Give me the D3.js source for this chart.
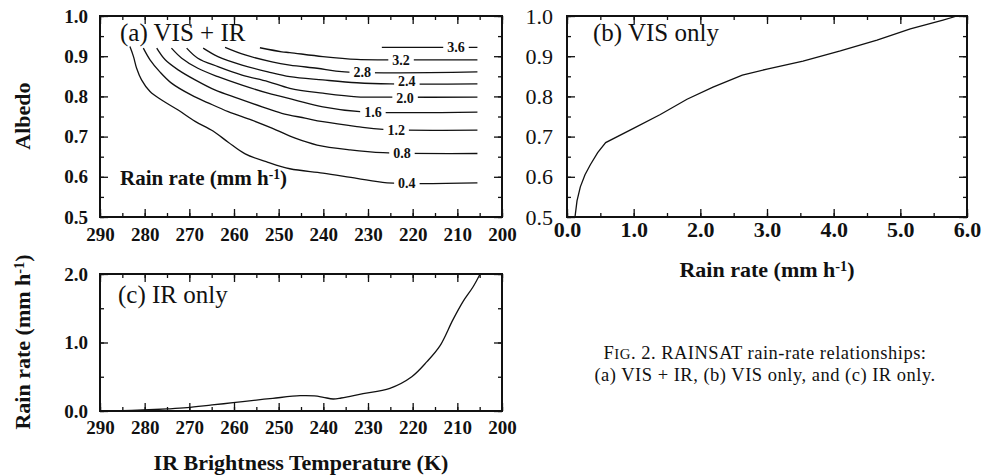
<!DOCTYPE html>
<html><head><meta charset="utf-8">
<script src="https://cdn.jsdelivr.net/npm/d3@7"></script>
<style>
html,body{margin:0;padding:0;background:#fff;}
svg{display:block;}
text{font-family:"Liberation Serif","Times New Roman",serif;fill:#111;}
</style></head><body>
<svg id="chart" width="984" height="475"></svg>
<script>
// ---------------- DATA ----------------
const tempMajorTicks = [290, 280, 270, 260, 250, 240, 230, 220, 210, 200];
const albedoMajorTicks = [0.5, 0.6, 0.7, 0.8, 0.9, 1.0];
const visRateMajorTicks = [0, 1, 2, 3, 4, 5, 6];
const irRateMajorTicks = [0, 1, 2];

// (a) VIS + IR contours: [brightness temperature K, albedo]
const contourLevels = ["0.4", "0.8", "1.2", "1.6", "2.0", "2.4", "2.8", "3.2", "3.6"];
const contour04 = [[283.3,0.924],[282.5,0.899],[281.8,0.870],[280.7,0.841],[278.8,0.812],[276.2,0.791],[272.5,0.766],[268.7,0.738],[264.7,0.714],[261.3,0.686],[257.5,0.657],[252.4,0.636],[247.5,0.620],[240.1,0.609],[232.5,0.596],[225.7,0.585],[205.5,0.585]];
const contour08 = [[280.3,0.920],[278.8,0.891],[276.6,0.861],[274.0,0.833],[269.5,0.803],[265.8,0.784],[261.3,0.762],[256.0,0.741],[251.5,0.721],[246.3,0.696],[241.4,0.679],[234.0,0.667],[226.6,0.660],[205.5,0.658]];
const contour12 = [[277.3,0.920],[275.4,0.891],[272.5,0.866],[268.7,0.841],[264.3,0.816],[259.1,0.795],[253.7,0.774],[249.3,0.758],[244.1,0.746],[240.1,0.737],[232.5,0.725],[226.6,0.718],[205.5,0.716]];
const contour16 = [[274.0,0.920],[271.7,0.895],[268.1,0.870],[263.6,0.849],[258.2,0.828],[252.4,0.808],[246.3,0.791],[240.1,0.774],[231.8,0.762],[205.5,0.761]];
const contour20 = [[270.6,0.920],[268.1,0.895],[263.6,0.874],[258.2,0.853],[252.4,0.837],[247.5,0.820],[240.1,0.808],[232.5,0.799],[225.1,0.798],[205.5,0.798]];
const contour24 = [[266.9,0.920],[263.6,0.899],[258.2,0.878],[252.4,0.861],[247.5,0.849],[240.1,0.841],[232.5,0.834],[225.1,0.831],[205.5,0.831]];
const contour28 = [[262.0,0.922],[257.5,0.903],[251.5,0.886],[247.5,0.878],[241.4,0.870],[235.2,0.861],[205.5,0.861]];
const contour32 = [[254.2,0.921],[249.3,0.911],[247.5,0.909],[240.1,0.899],[232.5,0.892],[225.7,0.891],[205.5,0.891]];
const contour36 = [[226.9,0.922],[205.5,0.922]];
const contourLabelTemps = [221.3, 222.4, 223.7, 228.9, 221.7, 221.3, 231.3, 222.6, 210.3];

// (b) VIS only
const visRate   = [0.12, 0.15, 0.20, 0.27, 0.35, 0.46, 0.58, 0.99, 1.40, 1.80, 2.19, 2.63, 3.00, 3.54, 4.10, 4.65, 5.15, 5.64, 5.85];
const visAlbedo = [0.50, 0.54, 0.575, 0.605, 0.63, 0.66, 0.685, 0.72, 0.755, 0.793, 0.823, 0.853, 0.868, 0.888, 0.913, 0.94, 0.968, 0.99, 1.0];

// (c) IR only
const irTemp = [290, 285, 280.4, 275, 270.5, 264.9, 260.2, 255, 251.3, 245.2, 242, 240, 237.8, 236, 234, 231.1, 225.1, 220.2, 216.8, 213.9, 211.0, 208.7, 206.5, 204.9];
const irRate = [0, 0.005, 0.015, 0.03, 0.048, 0.088, 0.121, 0.16, 0.185, 0.223, 0.22, 0.2, 0.175, 0.19, 0.215, 0.253, 0.331, 0.50, 0.72, 0.95, 1.33, 1.60, 1.81, 2.0];

// ---------------- DRAW ----------------
const svg = d3.select("#chart");
const contours = [contour04, contour08, contour12, contour16, contour20, contour24, contour28, contour32, contour36];

function frame(g, x, y, o) {
  const [x0, x1] = x.range(), [y0, y1] = y.range();
  const mk = (axisFn, scale, ticks, size, fmt) => axisFn(scale).tickValues(ticks).tickSize(-size).tickFormat(fmt || "");
  g.append("g").attr("transform", `translate(0,${y0})`).call(mk(d3.axisBottom, x, o.xMinor, 4));
  const bl = g.append("g").attr("transform", `translate(0,${y0})`);
  bl.call(mk(d3.axisBottom, x, o.xMajor, 8, o.xFmt).tickPadding(o.xPad));
  bl.selectAll("text").attr("font-size", o.xFont).attr("font-weight", o.xWeight).attr("fill", "#111");
  g.append("g").attr("transform", `translate(0,${y1})`).call(mk(d3.axisTop, x, o.xMinor, 4));
  g.append("g").attr("transform", `translate(0,${y1})`).call(mk(d3.axisTop, x, o.xMajor, 8));
  g.append("g").attr("transform", `translate(${x0},0)`).call(mk(d3.axisLeft, y, o.yMinor, 4));
  const ll = g.append("g").attr("transform", `translate(${x0},0)`);
  ll.call(mk(d3.axisLeft, y, o.yMajor, 8, o.yFmt).tickPadding(o.yPad));
  ll.selectAll("text").attr("font-size", o.yFont).attr("font-weight", o.yWeight).attr("fill", "#111");
  g.append("g").attr("transform", `translate(${x1},0)`).call(mk(d3.axisRight, y, o.yMinor, 4));
  g.append("g").attr("transform", `translate(${x1},0)`).call(mk(d3.axisRight, y, o.yMajor, 8));
  g.selectAll(".domain").remove();
  g.selectAll(".tick line").attr("stroke", "#111").attr("stroke-width", 1.3);
  g.append("rect").attr("x", x0).attr("y", y1).attr("width", x1 - x0).attr("height", y0 - y1)
    .attr("fill", "none").attr("stroke", "#111").attr("stroke-width", 2);
}

function range(a, b, s) { const r = []; for (let v = a; v <= b + 1e-9; v += s) r.push(+v.toFixed(3)); return r; }

function rainLabel(sel) {
  sel.append("tspan").text("Rain rate (mm h");
  sel.append("tspan").attr("dy", "-0.45em").attr("font-size", "0.65em").text("-1");
  sel.append("tspan").attr("dy", "0.3em").text(")");
}

// ----- Panel (a)
const xa = d3.scaleLinear().domain([290, 200]).range([100, 502]);
const ya = d3.scaleLinear().domain([0.5, 1.0]).range([217, 16]);
const ga = svg.append("g");
const lineA = d3.line().x(d => xa(d[0])).y(d => ya(d[1])).curve(d3.curveCatmullRom.alpha(0.5));
ga.selectAll("path.c").data(contours).join("path").attr("class", "c")
  .attr("d", lineA).attr("fill", "none").attr("stroke", "#111").attr("stroke-width", 1.3);
const labelNudge = { "2.4": -2.5, "2.0": 0.5 };
contours.forEach((c, i) => {
  const t = contourLabelTemps[i];
  const yv = c[c.length - 1][1];
  const gx = xa(t), gy = ya(yv);
  const txt = ga.append("text").attr("x", gx).attr("y", gy + (labelNudge[contourLevels[i]] || 0)).attr("dy", "0.35em")
    .attr("text-anchor", "middle").attr("font-size", 14).attr("font-weight", "bold").text(contourLevels[i]);
  const bb = txt.node().getBBox();
  ga.insert("rect", "text").attr("x", bb.x - 4).attr("y", gy - 4).attr("width", bb.width + 8).attr("height", 8).attr("fill", "#fff");
});
frame(ga, xa, ya, {
  xMajor: tempMajorTicks, xMinor: range(200, 290, 5), yMajor: albedoMajorTicks, yMinor: range(0.5, 1.0, 0.05),
  xFmt: d3.format("d"), yFmt: d3.format(".1f"), xPad: 11, yPad: 12, xFont: 19, yFont: 19, xWeight: "bold", yWeight: "bold"
});
ga.append("text").attr("x", 120).attr("y", 41).attr("font-size", 25).text("(a) VIS + IR");
ga.append("text").attr("x", 120).attr("y", 185).attr("font-size", 21).attr("font-weight", "bold").call(rainLabel);
svg.append("text").attr("transform", `translate(30,116) rotate(-90)`).attr("text-anchor", "middle")
  .attr("font-size", 22).attr("font-weight", "bold").text("Albedo");

// ----- Panel (b)
const xb = d3.scaleLinear().domain([0, 6]).range([567, 967]);
const yb = d3.scaleLinear().domain([0.5, 1.0]).range([217, 16]);
const gb = svg.append("g");
gb.append("path").datum(visRate.map((r, i) => [r, visAlbedo[i]]))
  .attr("d", d3.line().x(d => xb(d[0])).y(d => yb(d[1])))
  .attr("fill", "none").attr("stroke", "#111").attr("stroke-width", 1.3);
frame(gb, xb, yb, {
  xMajor: visRateMajorTicks, xMinor: range(0, 6, 0.5), yMajor: albedoMajorTicks, yMinor: range(0.5, 1.0, 0.05),
  xFmt: d3.format(".1f"), yFmt: d3.format(".1f"), xPad: 4, yPad: 14, xFont: 22, yFont: 22, xWeight: "bold", yWeight: "normal"
});
gb.append("text").attr("x", 593).attr("y", 41).attr("font-size", 25).text("(b) VIS only");
svg.append("text").attr("x", 767).attr("y", 277).attr("text-anchor", "middle").attr("font-size", 22).attr("font-weight", "bold").call(rainLabel);

// ----- Panel (c)
const xc = d3.scaleLinear().domain([290, 200]).range([100, 502]);
const yc = d3.scaleLinear().domain([0, 2]).range([411, 274]);
const gc = svg.append("g");
gc.append("path").datum(irTemp.map((t, i) => [t, irRate[i]]))
  .attr("d", d3.line().x(d => xc(d[0])).y(d => yc(d[1])).curve(d3.curveCatmullRom.alpha(0.5)))
  .attr("fill", "none").attr("stroke", "#111").attr("stroke-width", 1.3);
frame(gc, xc, yc, {
  xMajor: tempMajorTicks, xMinor: range(200, 290, 5), yMajor: irRateMajorTicks, yMinor: range(0, 2, 0.5),
  xFmt: d3.format("d"), yFmt: d3.format(".1f"), xPad: 10, yPad: 12, xFont: 19, yFont: 19, xWeight: "bold", yWeight: "bold"
});
gc.append("text").attr("x", 118).attr("y", 303).attr("font-size", 25).text("(c) IR only");
svg.append("text").attr("transform", `translate(30,342) rotate(-90)`).attr("text-anchor", "middle")
  .attr("font-size", 22).attr("font-weight", "bold").call(rainLabel);
svg.append("text").attr("x", 301).attr("y", 470).attr("text-anchor", "middle").attr("font-size", 22).attr("font-weight", "bold")
  .text("IR Brightness Temperature (K)");

// ----- Caption
const cap1 = svg.append("text").attr("x", 765).attr("y", 359).attr("text-anchor", "middle")
  .attr("font-size", 18.5).attr("letter-spacing", 0.5);
cap1.append("tspan").text("F");
cap1.append("tspan").attr("font-size", "0.8em").text("IG");
cap1.append("tspan").text(". 2. RAINSAT rain-rate relationships:");
svg.append("text").attr("x", 765).attr("y", 381).attr("text-anchor", "middle")
  .attr("font-size", 18.5).attr("letter-spacing", 0.5)
  .text("(a) VIS + IR, (b) VIS only, and (c) IR only.");
</script>
</body></html>
